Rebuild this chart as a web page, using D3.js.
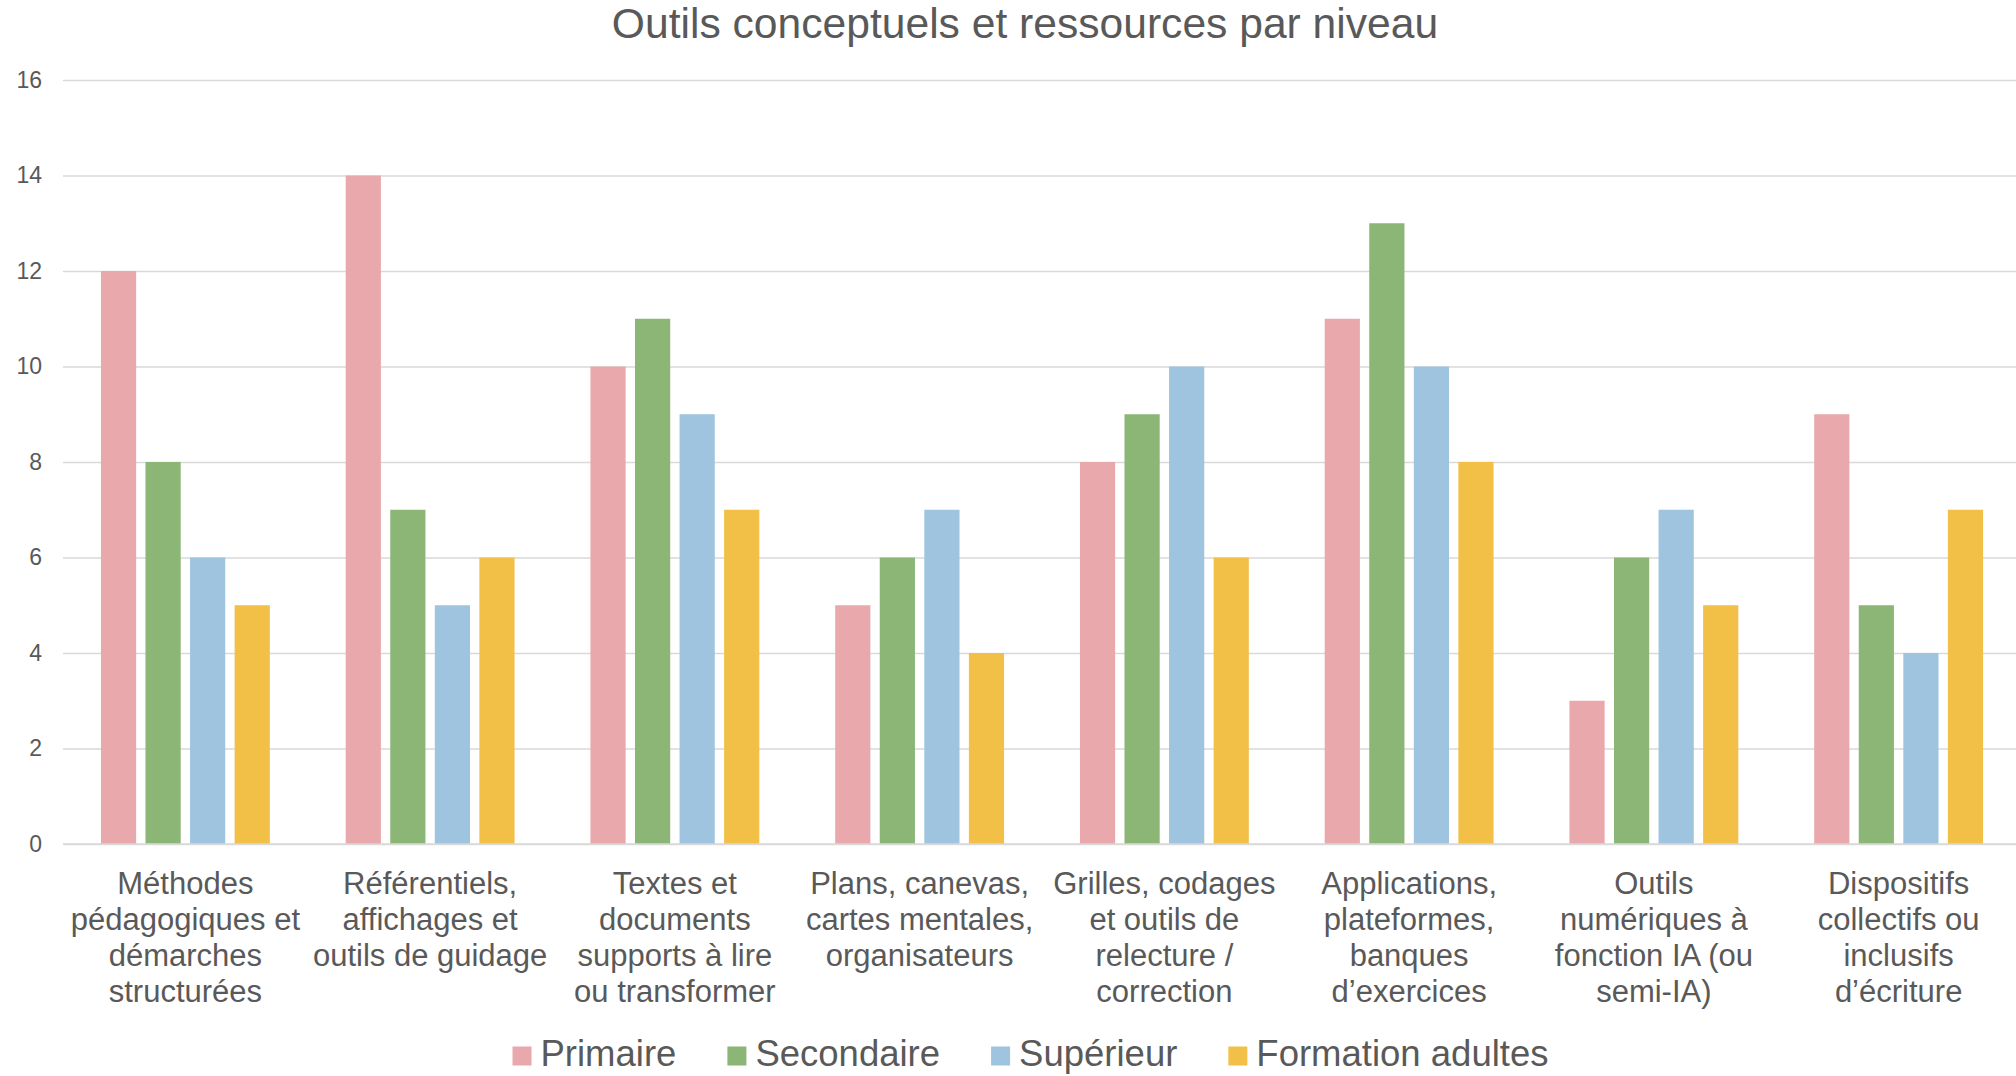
<!DOCTYPE html>
<html><head><meta charset="utf-8">
<script src="https://cdn.jsdelivr.net/npm/d3@7"></script>
<style>
html,body{margin:0;padding:0;background:#fff;}
svg{display:block;font-family:"Liberation Sans",Arial,sans-serif;}
</style></head>
<body>
<svg id="chart" width="2016" height="1076"></svg>
<script>
const title = "Outils conceptuels et ressources par niveau";
const categories = [
  "Méthodes pédagogiques et démarches structurées",
  "Référentiels, affichages et outils de guidage",
  "Textes et documents supports à lire ou transformer",
  "Plans, canevas, cartes mentales, organisateurs",
  "Grilles, codages et outils de relecture / correction",
  "Applications, plateformes, banques d’exercices",
  "Outils numériques à fonction IA (ou semi-IA)",
  "Dispositifs collectifs ou inclusifs d’écriture"
];
const categoryLines = [
  ["Méthodes","pédagogiques et","démarches","structurées"],
  ["Référentiels,","affichages et","outils de guidage"],
  ["Textes et","documents","supports à lire","ou transformer"],
  ["Plans, canevas,","cartes mentales,","organisateurs"],
  ["Grilles, codages","et outils de","relecture /","correction"],
  ["Applications,","plateformes,","banques","d’exercices"],
  ["Outils","numériques à","fonction IA (ou","semi-IA)"],
  ["Dispositifs","collectifs ou","inclusifs","d’écriture"]
];
const seriesNames = ["Primaire","Secondaire","Supérieur","Formation adultes"];
const primaire   = [12,14,10,5,8,11,3,9];
const secondaire = [8,7,11,6,9,13,6,5];
const superieur  = [6,5,9,7,10,10,7,4];
const adultes    = [5,6,7,4,6,8,5,7];
const yTicks = [0,2,4,6,8,10,12,14,16];
const colors = ["#E8A8AC","#8BB676","#9FC4E0","#F2C046"];

(function(){
const seriesValues = [primaire, secondaire, superieur, adultes];
const svg = d3.select("#chart");
const textColor = "#595959";

const mLeft = 63, mRight = 2016, mTop = 80, mBottom = 844, bandRight = 2021;

const y = d3.scaleLinear().domain([0,16]).range([mBottom, mTop]);
const x0 = d3.scaleBand().domain(categories).range([mLeft, bandRight]).paddingInner(0.31).paddingOuter(0.155);
const x1 = d3.scaleBand().domain(seriesNames).range([0, x0.bandwidth()]).paddingInner(0.21).paddingOuter(0);

// title
svg.append("text").attr("x", 1025).attr("y", 37.5).attr("text-anchor","middle")
  .attr("font-size", 42.6).attr("fill", textColor).text(title);

// gridlines
const yAxis = d3.axisLeft(y).tickValues(yTicks).tickSize(-(mRight-mLeft)).tickPadding(21).tickFormat(d3.format("d"));
const gy = svg.append("g").attr("transform", `translate(${mLeft},0)`).call(yAxis);
gy.select(".domain").remove();
gy.selectAll(".tick line").attr("stroke","#D9D9D9").attr("stroke-width",1.7);
gy.selectAll(".tick text").attr("font-size",23).attr("fill",textColor)
  .attr("font-family",'"Liberation Sans",Arial,sans-serif');

// bars
const groups = svg.append("g").selectAll("g").data(categories).join("g")
  .attr("transform", d => `translate(${x0(d)},0)`);
groups.selectAll("rect").data((d,i) => seriesNames.map((s,j) => ({s, v: seriesValues[j][i], j})))
  .join("rect")
  .attr("x", d => x1(d.s)).attr("width", x1.bandwidth())
  .attr("y", d => y(d.v)).attr("height", d => y(0) - y(d.v))
  .attr("fill", d => colors[d.j]);

// baseline drawn over bars
svg.append("line").attr("x1",mLeft).attr("x2",mRight).attr("y1",y(0)).attr("y2",y(0))
  .attr("stroke","#D9D9D9").attr("stroke-width",1.7);

// category labels
const labels = svg.append("g");
categories.forEach((c,i) => {
  const t = labels.append("text").attr("text-anchor","middle").attr("font-size",31).attr("fill",textColor);
  categoryLines[i].forEach((ln,k) => {
    t.append("tspan").attr("x", x0(c) + x0.bandwidth()/2).attr("y", 893.5 + k*36.2).text(ln);
  });
});

// legend
const legendFont = 36.5, sq = 19, gapText = 9, gapItem = 51, legendBase = 1065.5;
const lg = svg.append("g");
const items = seriesNames.map((s,j) => {
  const g = lg.append("g");
  g.append("rect").attr("width",sq).attr("height",sq).attr("y", legendBase - sq).attr("fill",colors[j]);
  const t = g.append("text").attr("x", sq + gapText).attr("y", legendBase).attr("font-size",legendFont).attr("fill",textColor).text(s);
  return {g, w: sq + gapText + t.node().getComputedTextLength()};
});
const totalW = d3.sum(items, d => d.w) + gapItem*(items.length-1);
let cx = 1030.5 - totalW/2;
items.forEach(it => { it.g.attr("transform", `translate(${cx},0)`); cx += it.w + gapItem; });
})();
</script>
</body></html>
